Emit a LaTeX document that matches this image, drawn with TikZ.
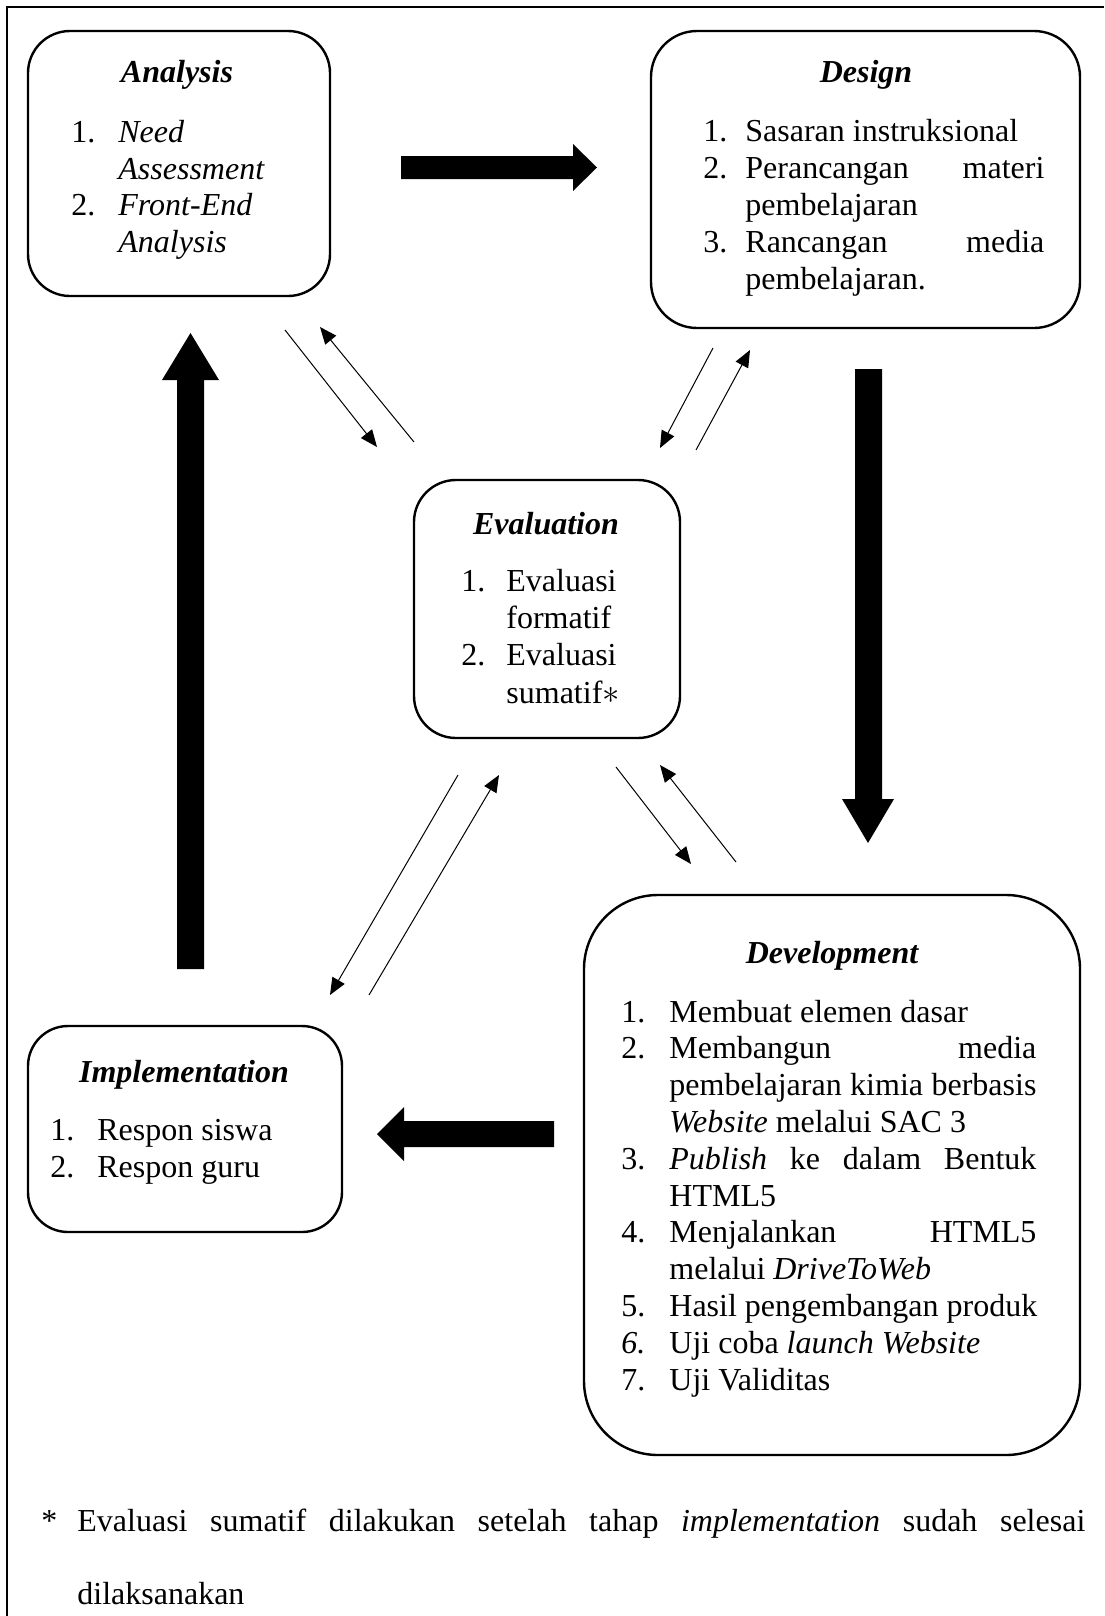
\documentclass[tikz,border=0pt]{standalone}
\usepackage{fontspec}
\setmainfont{Liberation Serif}
\usetikzlibrary{arrows.meta,fit}
\begin{document}
\begin{tikzpicture}[x=0.5pt,y=-0.5pt,
  box/.style={draw, line width=1.2pt, inner sep=0pt},
  txt/.style={anchor=base west, inner sep=0pt, font=\fontsize{16}{18.4}\selectfont},
  ttl/.style={anchor=base, inner sep=0pt, font=\fontsize{16}{18.4}\selectfont\bfseries\itshape},
  thinarrow/.style={line width=0.5pt, -{Triangle[length=8.5pt,width=7pt]}},
  heavy/.style={fill=black}]
\useasboundingbox (0,0) rectangle (1104,1616);
% outer frame
\draw[line width=1pt] (7,1616) -- (7,7) -- (1104,7);

% boxes
\node[box, rounded corners=21pt, fit={(28,31) (330,296)}] (analysis) {};
\node[box, rounded corners=23pt, fit={(651,31) (1080,328)}] (design) {};
\node[box, rounded corners=21pt, fit={(414,480) (680,738)}] (evaluation) {};
\node[box, rounded corners=20pt, fit={(28,1026) (342,1232)}] (implementation) {};
\node[box, rounded corners=37pt, fit={(584,895) (1080,1455)}] (development) {};

% Analysis text
\node[ttl] (tA) at (177,83) {Analysis};
\node[txt] (a1) at (71,142) {1.};
\node[txt] (a1a) at (118,142) {\itshape Need};
\node[txt] (a1b) at (118,179) {\itshape Assessment};
\node[txt] (a2) at (71,215) {2.};
\node[txt] (a2a) at (118,215) {\itshape Front-End};
\node[txt] (a2b) at (118,252) {\itshape Analysis};

% Design text
\node[ttl] (tD) at (866,83) {Design};
\node[txt] (d1) at (703,141) {1.};
\node[txt] (d1a) at (745,141) {Sasaran instruksional};
\node[txt] (d2) at (703,178) {2.};
\node[txt] (d2a) at (745,178) {\makebox[149.5pt][s]{Perancangan materi}};
\node[txt] (d2b) at (745,215) {pembelajaran};
\node[txt] (d3) at (703,252) {3.};
\node[txt] (d3a) at (745,252) {\makebox[149.5pt][s]{Rancangan media}};
\node[txt] (d3b) at (745,289) {pembelajaran.};

% Evaluation text
\node[ttl] (tE) at (546,534) {Evaluation};
\node[txt] (e1) at (461,591) {1.};
\node[txt] (e1a) at (506,591) {Evaluasi};
\node[txt] (e1b) at (506,628) {formatif};
\node[txt] (e2) at (461,665) {2.};
\node[txt] (e2a) at (506,665) {Evaluasi};
\node[txt] (e2b) at (506,703) {sumatif$\ast$};

% Implementation text
\node[ttl] (tI) at (184,1082) {Implementation};
\node[txt] (i1) at (50,1140) {1.};
\node[txt] (i1a) at (97,1140) {Respon siswa};
\node[txt] (i2) at (50,1177) {2.};
\node[txt] (i2a) at (97,1177) {Respon guru};

% Development text
\node[ttl] (tDv) at (832,963) {Development};
\node[txt] (v1) at (621,1022) {1.};
\node[txt] (v1a) at (669,1022) {Membuat elemen dasar};
\node[txt] (v2) at (621,1058.8) {2.};
\node[txt] (v2a) at (669,1058.8) {\makebox[183.5pt][s]{Membangun media}};
\node[txt] (v2b) at (669,1095.6) {\makebox[183.5pt][s]{pembelajaran kimia berbasis}};
\node[txt] (v2c) at (669,1132.4) {\emph{Website} melalui SAC 3};
\node[txt] (v3) at (621,1169.2) {3.};
\node[txt] (v3a) at (669,1169.2) {\makebox[183.5pt][s]{\emph{Publish} ke dalam Bentuk}};
\node[txt] (v3b) at (669,1206) {HTML5};
\node[txt] (v4) at (621,1242.8) {4.};
\node[txt] (v4a) at (669,1242.8) {\makebox[183.5pt][s]{Menjalankan HTML5}};
\node[txt] (v4b) at (669,1279.6) {melalui \emph{DriveToWeb}};
\node[txt] (v5) at (621,1316.4) {5.};
\node[txt] (v5a) at (669,1316.4) {Hasil pengembangan produk};
\node[txt] (v6) at (621,1353.2) {\itshape 6.};
\node[txt] (v6a) at (669,1353.2) {Uji coba \emph{launch Website}};
\node[txt] (v7) at (621,1390) {7.};
\node[txt] (v7a) at (669,1390) {Uji Validitas};

% footnote
\node[txt] (fstar) at (41,1531) {*};
\node[txt] (fn1) at (77,1531) {\makebox[504pt][s]{Evaluasi sumatif dilakukan setelah tahap \emph{implementation} sudah selesai}};
\node[txt] (fn2) at (77,1604) {dilaksanakan};

% heavy arrows
\fill[heavy] (401,156) -- (573,156) -- (573,144) -- (597,167.5) -- (573,191) -- (573,179) -- (401,179) -- cycle;
\fill[heavy] (855,369) -- (882,369) -- (882,799) -- (894,799) -- (868,843) -- (842,799) -- (855,799) -- cycle;
\fill[heavy] (177,969) -- (204,969) -- (204,380) -- (219,380) -- (190.5,333) -- (162,380) -- (177,380) -- cycle;
\fill[heavy] (554,1121) -- (554,1147) -- (404,1147) -- (404,1161) -- (377,1134) -- (404,1107) -- (404,1121) -- cycle;

% thin arrow endpoints
\coordinate (A0) at (285,330); \coordinate (A1) at (377,447);
\coordinate (B0) at (414,442); \coordinate (B1) at (320,327);
\coordinate (C0) at (713,348); \coordinate (C1) at (660,448);
\coordinate (D0) at (696,450); \coordinate (D1) at (750,350);
\coordinate (E0) at (616,767); \coordinate (E1) at (691,864);
\coordinate (F0) at (736,862); \coordinate (F1) at (660,765);
\coordinate (G0) at (458,775); \coordinate (G1) at (330,995);
\coordinate (H0) at (369,995); \coordinate (H1) at (499,775);
\draw[thinarrow] (A0) -- (A1);
\draw[thinarrow] (B0) -- (B1);
\draw[thinarrow] (C0) -- (C1);
\draw[thinarrow] (D0) -- (D1);
\draw[thinarrow] (E0) -- (E1);
\draw[thinarrow] (F0) -- (F1);
\draw[thinarrow] (G0) -- (G1);
\draw[thinarrow] (H0) -- (H1);
\end{tikzpicture}
\end{document}
